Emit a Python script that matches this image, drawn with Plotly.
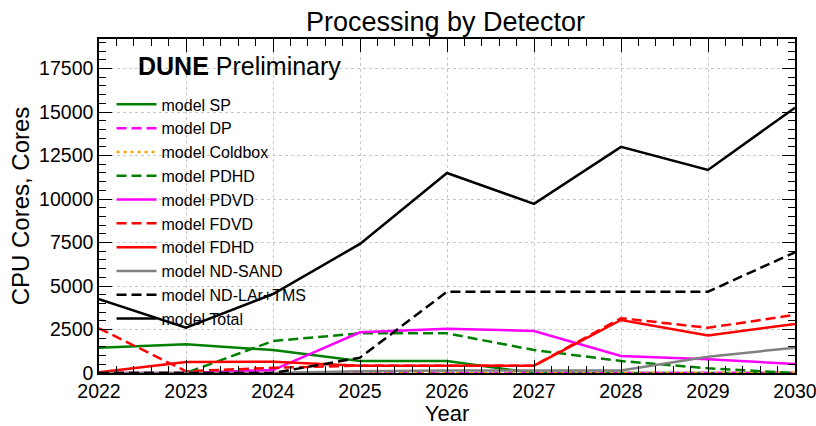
import plotly.graph_objects as go

years = [2022, 2023, 2024, 2025, 2026, 2027, 2028, 2029, 2030]

sp = [1450, 1650, 1320, 690, 690, 0, 0, 0, 0]
dp = [0, 0, 0, 0, 0, 0, 0, 0, 0]
coldbox = [0, 0, 0, 0, 0, 0, 0, 0, 0]
pdhd = [0, 0, 1840, 2280, 2280, 1320, 690, 270, 0]
pdvd = [0, 0, 170, 2340, 2550, 2415, 980, 790, 520]
fdvd = [2570, 100, 300, 420, 420, 420, 3150, 2600, 3340]
fdhd = [40, 630, 650, 420, 420, 420, 3050, 2150, 2820]
ndsand = [0, 0, 0, 100, 150, 150, 150, 940, 1455]
ndlar = [0, 0, 0, 880, 4675, 4675, 4675, 4675, 6940]
total = [4250, 2600, 4540, 7420, 11500, 9720, 13000, 11670, 15250]

series = [
    ("model SP", sp, "#008000", "solid"),
    ("model DP", dp, "#ff00ff", "10px,5px"),
    ("model Coldbox", coldbox, "#ffa500", "3px,4px"),
    ("model PDHD", pdhd, "#008000", "10px,5px"),
    ("model PDVD", pdvd, "#ff00ff", "solid"),
    ("model FDVD", fdvd, "#ff0000", "10px,5px"),
    ("model FDHD", fdhd, "#ff0000", "solid"),
    ("model ND-SAND", ndsand, "#808080", "solid"),
    ("model ND-LAr+TMS", ndlar, "#000000", "10px,5px"),
    ("model Total", total, "#000000", "solid"),
]

fig = go.Figure()
for name, vals, col, dash in series:
    fig.add_trace(go.Scatter(x=years, y=vals, mode="lines", name=name,
                             line=dict(color=col, width=2.5, dash=dash)))

font = "Liberation Sans, Arial, Helvetica, sans-serif"
axis_common = dict(showline=True, linecolor="black", linewidth=1.5, mirror="allticks",
                   ticks="inside", ticklen=13, tickwidth=1.2, tickcolor="black",
                   showgrid=True, gridcolor="#c8c8c8", griddash="dot", gridwidth=1,
                   zeroline=False, automargin=False,
                   tickfont=dict(size=19.5, color="black", family=font))

fig.update_layout(
    width=816, height=426,
    margin=dict(l=99, r=21, t=39, b=53),
    paper_bgcolor="white", plot_bgcolor="white",
    title=dict(text="Processing by Detector", x=0.546, xanchor="center", y=0.95, yanchor="middle",
               font=dict(size=27, color="black", family=font)),
    xaxis=dict(range=[2022, 2030], dtick=1, tick0=2022, tickformat="d",
               ticklabeloverflow="allow",
               title=dict(text="Year", font=dict(size=22, color="black", family=font), standoff=6),
               minor=dict(ticks="inside", dtick=0.2, ticklen=7, tickcolor="black", showgrid=False),
               **axis_common),
    yaxis=dict(range=[0, 19200], dtick=2500, tick0=0, tickformat="d",
               title=dict(text="CPU Cores, Cores", font=dict(size=24, color="black", family=font), standoff=3),
               minor=dict(ticks="inside", dtick=500, ticklen=7, tickcolor="black", showgrid=False),
               **axis_common),
    legend=dict(x=0.018, y=0.855, xanchor="left", yanchor="top", bgcolor="rgba(0,0,0,0)",
                font=dict(size=16, color="black", family=font), tracegroupgap=0, itemwidth=40),
    annotations=[dict(text="<b>DUNE</b> Preliminary", xref="paper", yref="paper",
                      x=0.053, y=0.919, xanchor="left", yanchor="middle", showarrow=False,
                      font=dict(size=25, color="black", family=font))],
)

post = ("document.body.style.margin='0';document.body.style.padding='0';"
        "document.body.style.overflow='hidden';"
        "Plotly.relayout('{plot_id}', {width: 816, height: 426});")
fig.write_html("out.html", post_script=post, config={"responsive": False, "displayModeBar": False})
